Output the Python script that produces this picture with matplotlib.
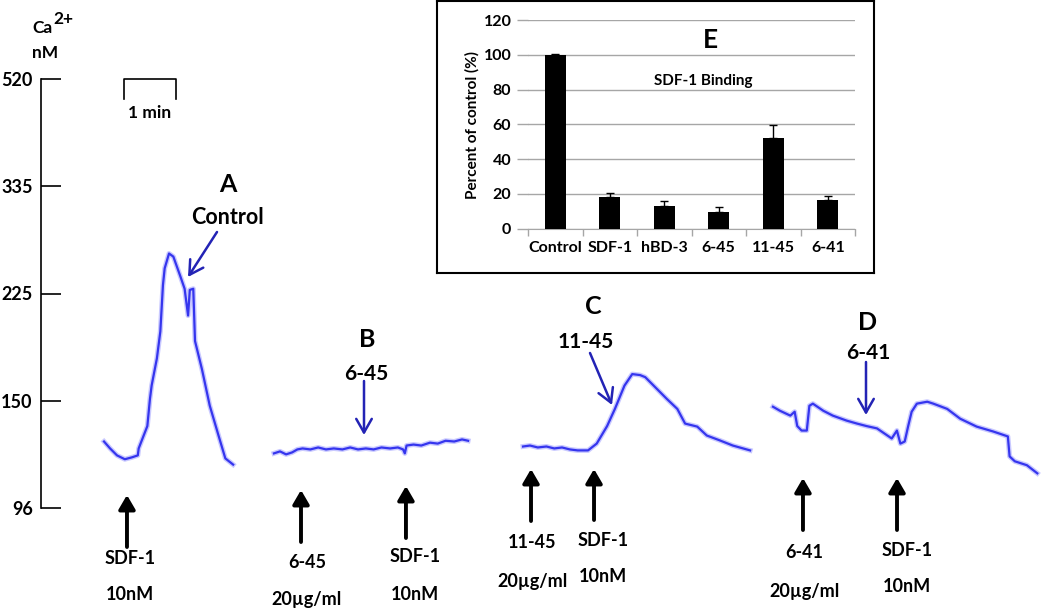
import numpy as np
import matplotlib
matplotlib.use('Agg')
import matplotlib.pyplot as plt

plt.rcParams['font.family'] = ['Lato', 'DejaVu Sans']

# Ca2+ axis (nM) - ticks are evenly spaced on the original recording scale
CA_TICKS = [96, 150, 225, 335, 520]

# Ca2+ traces: time from start of each recording (s) and level (nM)
a_time = [0, 7, 15, 24, 32, 39, 40, 50, 53, 55, 61, 65, 68, 70, 75, 80, 88, 93, 97, 99,
          103, 105, 113, 122, 132, 140, 149]
a_ca = [126.6, 123, 119.5, 117.6, 118.5, 119.5, 123, 135, 151, 159, 176, 195, 232, 247, 261,
        258, 240, 229, 207, 228, 229, 188, 169, 147, 130, 118, 115]

b_time = [0, 7, 14, 21, 27, 33, 42, 51, 60, 69, 79, 88, 97, 106, 115, 124, 134, 143, 149, 151,
          153, 161, 170, 180, 189, 198, 208, 217, 224]
b_ca = [120.5, 121.5, 120, 121, 122.5, 123, 122.5, 123.5, 122.5, 123, 122.5, 123.5, 122.5, 123,
        122.5, 123.5, 123, 123.5, 122.5, 120.5, 124.5, 125, 124.5, 126, 125.5, 127, 126.6, 127.7, 127]

c_time = [0, 8, 17, 27, 36, 45, 54, 63, 75, 85, 97, 106, 117, 126, 135, 141, 150, 166, 178, 187,
          201, 212, 227, 242, 262]
c_ca = [124, 124.5, 123.5, 124, 123, 123.5, 122.5, 122, 122, 125.5, 135, 145, 158.8, 165.9, 165.3,
        164, 159.2, 151, 145, 136.4, 134.7, 129.8, 127.2, 124.5, 122]

d_time = [0, 8, 20, 25, 28, 33, 39, 42, 46, 58, 69, 85, 97, 108, 120, 132, 137, 143, 147, 152,
          156, 160, 166, 178, 185, 201, 216, 235, 254, 271, 273, 279, 293, 305]
d_ca = [146.3, 143.9, 141, 143.3, 135, 132.5, 132.5, 146.9, 148.2, 143.9, 141, 138.1, 136.4, 135,
        133.7, 129.8, 128.2, 132.5, 125.5, 126.6, 135, 143.3, 148.2, 149.4, 148.2, 145, 139.2,
        134.7, 132, 129.3, 119, 116.6, 114.7, 110.9]

# additions (s from start of each recording)
a_events = [26.5]
b_events = [31.2, 152.3]
c_events = [9.2, 81.9]
d_events = [34.6, 143.1]

# panel E: SDF-1 binding
cats = ['Control', 'SDF-1', 'hBD-3', '6-45', '11-45', '6-41']
pct = [100, 18, 13.3, 9.8, 52, 16.5]
pct_err = [0.3, 2.5, 2.7, 2.5, 7.7, 2.3]

# layout
W, H = 1050, 610
PX_PER_S = 52 / 60.0
starts = [72.7, 268.8, 556.2, 844.6]
BLUE = '#3535ee'
DARKBLUE = '#2323b5'


def ca_fwd(v):
    lt = np.log(CA_TICKS)
    idx = np.arange(len(CA_TICKS), dtype=float)
    lv = np.log(np.clip(np.asarray(v, dtype=float), 1e-9, None))
    out = np.interp(lv, lt, idx)
    out = np.where(lv < lt[0], (lv - lt[0]) / (lt[1] - lt[0]), out)
    out = np.where(lv > lt[-1], idx[-1] + (lv - lt[-1]) / (lt[-1] - lt[-2]), out)
    return out


def ca_inv(u):
    lt = np.log(CA_TICKS)
    idx = np.arange(len(CA_TICKS), dtype=float)
    u = np.asarray(u, dtype=float)
    lv = np.interp(u, idx, lt)
    lv = np.where(u < 0, lt[0] + u * (lt[1] - lt[0]), lv)
    lv = np.where(u > idx[-1], lt[-1] + (u - idx[-1]) * (lt[-1] - lt[-2]), lv)
    return np.exp(lv)


def ftext(px, py, s, **kw):
    kw.setdefault('ha', 'center')
    kw.setdefault('va', 'center')
    fig.text(px / W, 1 - py / H, s, **kw)


fig = plt.figure(figsize=(W / 100, H / 100), dpi=100)

# main recording axis
ax = fig.add_axes([41 / W, (H - 508) / H, 1009 / W, 429 / H])
ax.set_facecolor('none')
ax.set_yscale('function', functions=(ca_fwd, ca_inv))
ax.set_ylim(96, 520)
ax.set_xlim(0, 1009 / PX_PER_S)
ax.set_yticks(CA_TICKS)
ax.set_yticklabels([str(v) for v in CA_TICKS], fontweight='bold')
ax.tick_params(axis='y', direction='in', length=14.5, width=1.2, pad=6, labelsize=13)
ax.set_xticks([])
for s in ['top', 'right', 'bottom']:
    ax.spines[s].set_visible(False)
ax.spines['left'].set_bounds(96, 520)
ax.spines['left'].set_linewidth(1.2)

times = [a_time, b_time, c_time, d_time]
levels = [a_ca, b_ca, c_ca, d_ca]
for t, v, t0 in zip(times, levels, starts):
    tt = t0 + np.array(t)
    ax.plot(tt, v, color='#9d9dff', lw=3.6, alpha=0.55, solid_joinstyle='round', clip_on=False)
    ax.plot(tt, v, color=BLUE, lw=1.6, solid_joinstyle='round', clip_on=False)

# scale bar, 1 min
sb0 = 95.8
ax.plot([sb0, sb0, sb0 + 60, sb0 + 60], [1 - 20 / 429, 1, 1, 1 - 20 / 429],
        transform=ax.get_xaxis_transform(), color='black', lw=1.2, clip_on=False)
ftext(150, 113, '1 min', fontsize=12.5, fontweight='bold')

ftext(32, 28, 'Ca', fontsize=12.5, ha='left', fontweight='bold')
ftext(53, 19, '2+', fontsize=12.5, ha='left', fontweight='bold')
ftext(32, 53, 'nM', fontsize=12.5, ha='left', fontweight='bold')

# black addition arrows (tip y, base y in px from top)
events = [a_events, b_events, c_events, d_events]
arrow_y = [[(495, 547)], [(490, 542), (486, 538)], [(469, 521), (469, 520)], [(478, 530), (478, 530)]]
for evs, t0, ys in zip(events, starts, arrow_y):
    for te, (tip, base) in zip(evs, ys):
        ax.annotate('', xy=(t0 + te, H - tip), xycoords=('data', 'figure pixels'),
                    xytext=(t0 + te, H - base),
                    arrowprops=dict(arrowstyle='-|>,head_length=0.6,head_width=0.35',
                                    color='black', lw=2.8, mutation_scale=14,
                                    shrinkA=0, shrinkB=0))

# labels under arrows
lab = dict(fontsize=13, fontweight='bold')
ftext(130, 558, 'SDF-1', **lab)
ftext(130, 595, '10nM', **lab)
ftext(307, 562, '6-45', **lab)
ftext(307, 600, '20\u00b5g/ml', **lab)
ftext(415, 557, 'SDF-1', **lab)
ftext(415, 595, '10nM', **lab)
ftext(532, 543, '11-45', **lab)
ftext(532, 582, '20\u00b5g/ml', **lab)
ftext(603, 540, 'SDF-1', **lab)
ftext(603, 577, '10nM', **lab)
ftext(804, 552, '6-41', **lab)
ftext(804, 592, '20\u00b5g/ml', **lab)
ftext(907, 550, 'SDF-1', **lab)
ftext(907, 587, '10nM', **lab)

# panel letters and peptide names
for px, py, s in [(228, 185, 'A'), (367, 340, 'B'), (593, 307, 'C'), (868, 322, 'D')]:
    ftext(px, py, s, fontsize=18, fontweight='bold')
ftext(228, 217, 'Control', fontsize=15.5, fontweight='bold')
ftext(366, 374, '6-45', fontsize=15, fontweight='bold')
ftext(586, 342, '11-45', fontsize=15, fontweight='bold')
ftext(868, 353, '6-41', fontsize=15, fontweight='bold')

for tip, tail in [((188, 277), (217, 232)), ((364, 435), (364, 381)),
                  ((612, 405), (590, 353)), ((866, 415), (866, 362))]:
    ax.annotate('', xy=(tip[0], H - tip[1]), xycoords='figure pixels',
                xytext=(tail[0], H - tail[1]),
                arrowprops=dict(arrowstyle='->,head_length=0.7,head_width=0.4',
                                color=DARKBLUE, lw=1.8, mutation_scale=14,
                                shrinkA=0, shrinkB=0))

# inset frame
axb = fig.add_axes([437 / W, (H - 273) / H, (874 - 437) / W, 272 / H])
axb.set_xticks([])
axb.set_yticks([])
for s in axb.spines.values():
    s.set_linewidth(1.5)
    s.set_color('black')

# inset bar chart
axi = fig.add_axes([528 / W, (H - 228.7) / H, 327 / W, 208.7 / H])
xpos = np.arange(len(cats))
axi.bar(xpos, pct, width=0.39, color='black', zorder=3,
        yerr=[np.zeros(len(pct)), pct_err], capsize=2.8,
        error_kw=dict(lw=1, capthick=1, ecolor='black'))
axi.set_ylim(0, 120)
axi.set_xlim(-0.5, len(cats) - 0.5)
axi.set_yticks(range(0, 121, 20))
axi.grid(axis='y', color='#a6a6a6', lw=1)
axi.set_axisbelow(True)
for s in ['left', 'top', 'right']:
    axi.spines[s].set_visible(False)
axi.spines['bottom'].set_color('#a6a6a6')
axi.tick_params(axis='y', length=8, color='#a6a6a6', width=1, pad=4, labelsize=11.5)
axi.set_xticks(xpos)
axi.set_xticklabels(cats)
axi.set_xticks(np.arange(-0.5, len(cats), 1), minor=True)
axi.tick_params(axis='x', which='major', length=0, pad=9, labelsize=11.5)
axi.tick_params(axis='x', which='minor', length=5, color='#a6a6a6', width=1)
for lbl in axi.get_xticklabels() + axi.get_yticklabels():
    lbl.set_fontweight('bold')

ftext(472, 125, 'Percent of control (%)', fontsize=11, fontweight='bold', rotation=90)
ftext(710, 40, 'E', fontsize=19, fontweight='bold')
ftext(703, 81, 'SDF-1 Binding', fontsize=11, fontweight='bold')

fig.savefig('out.png', dpi=100)
